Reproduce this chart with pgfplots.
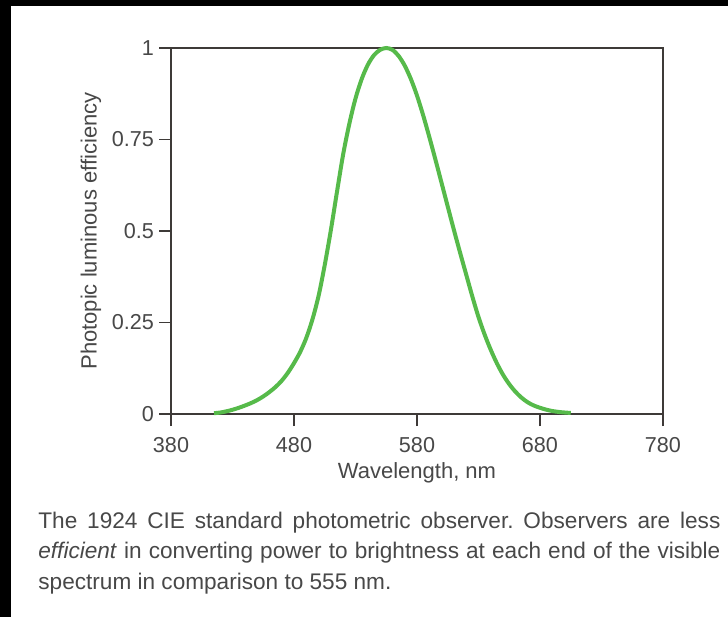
\documentclass[border=0pt]{standalone}
\usepackage{fontspec}
\setmainfont{Liberation Sans}
\usepackage{pgfplots}
\pgfplotsset{compat=1.18}
\definecolor{curvegreen}{RGB}{86,186,74}
\definecolor{axgray}{RGB}{62,58,56}
\definecolor{txtgray}{RGB}{72,72,72}
\frenchspacing

% CIE 1924 photopic V(lambda), visible part of the curve
\pgfplotstableread{
wl    v
415   0.00218
420   0.004
425   0.0073
430   0.0116
435   0.01684
440   0.023
445   0.0298
450   0.038
455   0.048
460   0.06
465   0.0739
470   0.09098
475   0.1126
480   0.13902
485   0.1693
490   0.20802
495   0.2586
500   0.323
505   0.4073
510   0.503
515   0.6082
520   0.71
525   0.7932
530   0.862
535   0.91485
540   0.954
545   0.9803
550   0.99495
555   1.0
560   0.995
565   0.9786
570   0.952
575   0.9154
580   0.87
585   0.8163
590   0.757
595   0.6949
600   0.631
605   0.5668
610   0.503
615   0.4412
620   0.381
625   0.321
630   0.265
635   0.217
640   0.175
645   0.1382
650   0.107
655   0.0816
660   0.061
665   0.04458
670   0.032
675   0.0232
680   0.017
685   0.01192
690   0.00821
695   0.005723
700   0.004102
705   0.002929
}\vdata

\begin{document}
\begin{tikzpicture}
\begin{scope}[x=0.5pt,y=-0.5pt]
  \fill[black] (0,0) rectangle (728,617);
  \fill[white] (11,6) rectangle (728,617);
\end{scope}
\begin{axis}[
  at={(85.5pt,-207pt)}, anchor=south west,
  scale only axis, width=246pt, height=183pt,
  xmin=380, xmax=780, ymin=0, ymax=1,
  xtick={380,480,580,680,780},
  ytick={0,0.25,0.5,0.75,1},
  yticklabels={0,0.25,0.5,0.75,1},
  tick pos=left, tick align=outside, major tick length=6pt,
  axis line style={axgray, line width=1pt},
  every tick/.style={axgray, line width=0.8pt},
  tick label style={font=\fontsize{10.8}{12}\selectfont, text=txtgray},
  xticklabel style={yshift=-2pt},
  yticklabel style={xshift=1pt},
  /pgf/number format/assume math mode=true,
  /pgf/number format/1000 sep={},
  xlabel={Wavelength, nm},
  ylabel={Photopic luminous efficiency},
  label style={font=\fontsize{11}{13}\selectfont, text=txtgray},
  xlabel style={at={(axis description cs:0.5,-0.1749)}, anchor=base},
  ylabel style={at={(axis description cs:-0.1626,0.5)}, anchor=center},
  clip=false,
]
\addplot[curvegreen, line width=2pt, smooth] table[x=wl, y=v] {\vdata};
\end{axis}
\begin{scope}[x=0.5pt,y=-0.5pt, every node/.style={inner sep=0pt, text=txtgray, font=\fontsize{11.3}{13}\selectfont}]
  \node[anchor=base west] at (38,528) {\makebox[341pt][s]{The 1924 CIE standard photometric observer. Observers are less}};
  \node[anchor=base west] at (38,558.5) {\makebox[341pt][s]{\textit{efficient} in converting power to brightness at each end of the visible}};
  \node[anchor=base west] at (38,589) {spectrum in comparison to 555 nm.};
\end{scope}
\end{tikzpicture}
\end{document}
